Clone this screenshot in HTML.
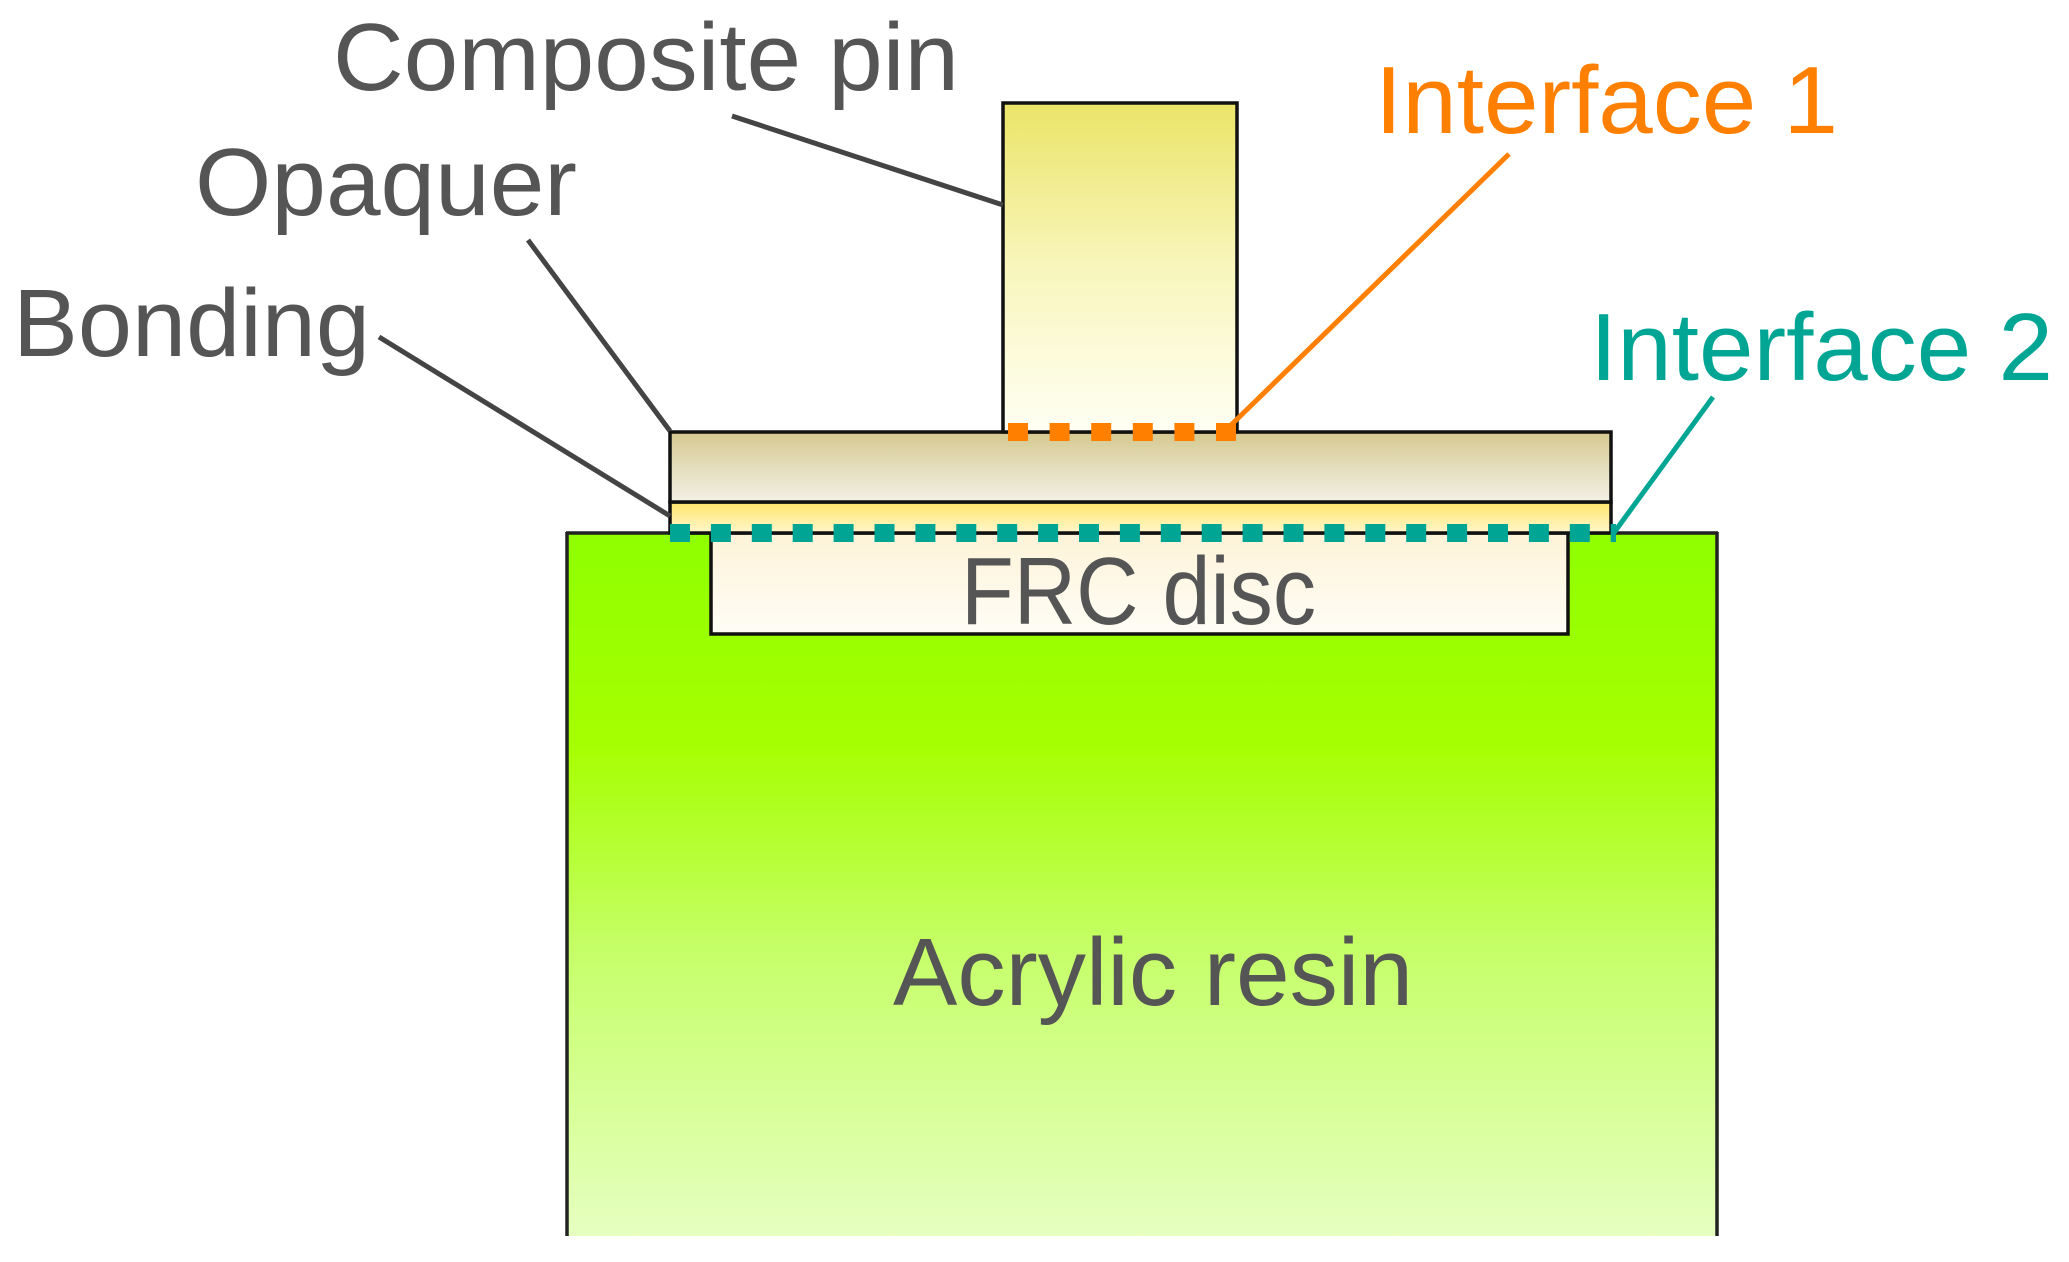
<!DOCTYPE html>
<html><head><meta charset="utf-8"><style>html,body{margin:0;padding:0;background:#fff;}svg{display:block}</style></head>
<body>
<svg width="2069" height="1262" viewBox="0 0 2069 1262" xmlns="http://www.w3.org/2000/svg" font-family="'Liberation Sans', sans-serif">
<defs>
<linearGradient id="pin" x1="0" y1="0" x2="0" y2="1"><stop offset="0" stop-color="#ebe468"/><stop offset="0.5" stop-color="#f8f6bc"/><stop offset="1" stop-color="#fffff4"/></linearGradient>
<linearGradient id="opq" x1="0" y1="0" x2="0" y2="1"><stop offset="0" stop-color="#d5c98f"/><stop offset="1" stop-color="#f3f0e6"/></linearGradient>
<linearGradient id="bond" x1="0" y1="0" x2="0" y2="1"><stop offset="0" stop-color="#ffe56a"/><stop offset="1" stop-color="#fff6cc"/></linearGradient>
<linearGradient id="res" x1="0" y1="0" x2="0" y2="1"><stop offset="0" stop-color="#8fff00"/><stop offset="0.3" stop-color="#a6ff00"/><stop offset="0.6" stop-color="#c6ff6a"/><stop offset="1" stop-color="#e6ffc0"/></linearGradient>
<linearGradient id="frc" x1="0" y1="0" x2="0" y2="1"><stop offset="0" stop-color="#fdf3d8"/><stop offset="1" stop-color="#fffdf6"/></linearGradient>
</defs>
<rect x="567" y="533" width="1150" height="703" fill="url(#res)"/>
<line x1="567" y1="532" x2="567" y2="1236" stroke="#222" stroke-width="3.5"/>
<line x1="1717" y1="532" x2="1717" y2="1236" stroke="#222" stroke-width="3.5"/>
<line x1="566" y1="533" x2="1718" y2="533" stroke="#222" stroke-width="3.5"/>
<rect x="711" y="533" width="857" height="101" fill="url(#frc)" stroke="#111" stroke-width="3.5"/>
<rect x="670" y="502" width="941" height="31" fill="url(#bond)" stroke="#111" stroke-width="3.5"/>
<rect x="670" y="432" width="941" height="70" fill="url(#opq)" stroke="#111" stroke-width="3.5"/>
<rect x="1003" y="103" width="234" height="329" fill="url(#pin)" stroke="#111" stroke-width="3.5"/>
<line x1="1008" y1="432" x2="1236" y2="432" stroke="#ff7f00" stroke-width="18" stroke-dasharray="20 21.6"/>
<line x1="670" y1="533" x2="1616" y2="533" stroke="#00a594" stroke-width="18" stroke-dasharray="20 20.9"/>
<g stroke="#444" stroke-width="5" fill="none">
<line x1="732" y1="116" x2="1003" y2="205"/>
<line x1="528" y1="240" x2="670" y2="431"/>
<line x1="379" y1="337" x2="670" y2="516"/>
</g>
<line x1="1509" y1="154" x2="1228" y2="428" stroke="#ff7f00" stroke-width="5"/>
<line x1="1713" y1="397" x2="1613" y2="534" stroke="#00a594" stroke-width="5"/>
<g fill="#555" font-size="96">
<text x="333" y="90" textLength="626" lengthAdjust="spacingAndGlyphs">Composite pin</text>
<text x="195" y="215" textLength="382" lengthAdjust="spacingAndGlyphs">Opaquer</text>
<text x="13" y="356" textLength="357" lengthAdjust="spacingAndGlyphs">Bonding</text>
<text x="961" y="624" textLength="355" lengthAdjust="spacingAndGlyphs">FRC disc</text>
<text x="893" y="1005" textLength="520" lengthAdjust="spacingAndGlyphs">Acrylic resin</text>
</g>
<text x="1375" y="133" font-size="96" fill="#ff7f00" textLength="463" lengthAdjust="spacingAndGlyphs">Interface 1</text>
<text x="1590" y="380" font-size="96" fill="#00a594" textLength="463" lengthAdjust="spacingAndGlyphs">Interface 2</text>
</svg>
</body></html>
